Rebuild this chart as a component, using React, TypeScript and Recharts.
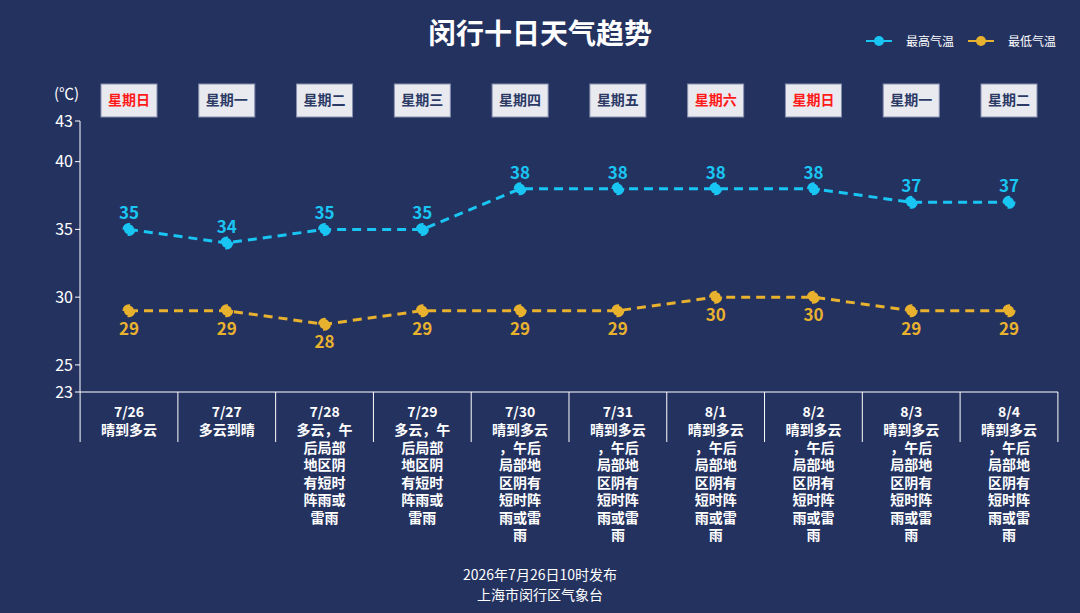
import React from 'react';
import { LineChart, Line, XAxis, YAxis, LabelList } from 'recharts';

const dates = ['7/26', '7/27', '7/28', '7/29', '7/30', '7/31', '8/1', '8/2', '8/3', '8/4'];
const weekdays = ['星期日', '星期一', '星期二', '星期三', '星期四', '星期五', '星期六', '星期日', '星期一', '星期二'];
const weekendFlags = [true, false, false, false, false, false, true, true, false, false];
const weathers = [
  '晴到多云', '多云到晴',
  '多云，午|后局部|地区阴|有短时|阵雨或|雷雨',
  '多云，午|后局部|地区阴|有短时|阵雨或|雷雨',
  '晴到多云|，午后|局部地|区阴有|短时阵|雨或雷|雨',
  '晴到多云|，午后|局部地|区阴有|短时阵|雨或雷|雨',
  '晴到多云|，午后|局部地|区阴有|短时阵|雨或雷|雨',
  '晴到多云|，午后|局部地|区阴有|短时阵|雨或雷|雨',
  '晴到多云|，午后|局部地|区阴有|短时阵|雨或雷|雨',
  '晴到多云|，午后|局部地|区阴有|短时阵|雨或雷|雨',
];
const highs = [35, 34, 35, 35, 38, 38, 38, 38, 37, 37];
const lows = [29, 29, 28, 29, 29, 29, 30, 30, 29, 29];
const yTicks = [23, 25, 30, 35, 40, 43];

const data = dates.map((d, i) => ({ idx: i, date: d, wk: weekdays[i], high: highs[i], low: lows[i] }));
const BG = '#243260';
const HI = '#19c5f2';
const LO = '#e8b12e';
const FONT = '"Noto Sans CJK SC", "Noto Sans", sans-serif';
const BAND = 97.8;

const BottomTick = (props: any) => {
  const { x, y, payload } = props;
  const i = payload.index;
  const lines = weathers[i].split('|');
  return (
    <g>
      <line x1={x - BAND / 2} y1={y - 8} x2={x - BAND / 2} y2={y + 42} stroke="#fff" />
      {i === dates.length - 1 && <line x1={x + BAND / 2} y1={y - 8} x2={x + BAND / 2} y2={y + 42} stroke="#fff" />}
      <text x={x} y={y + 17} textAnchor="middle" fill="#fff" fontSize={14} fontWeight="bold">{dates[i]}</text>
      {lines.map((l, k) => (
        <text key={k} x={x} y={y + 35 + k * 17.5} textAnchor="middle" fill="#fff" fontSize={14} fontWeight="bold">{l}</text>
      ))}
    </g>
  );
};

const TopTick = (props: any) => {
  const { x, payload } = props;
  const i = payload.index;
  return (
    <g>
      <rect x={x - 28} y={84} width={56} height={33} fill="#e9eaf0" stroke="#8890b0" />
      <text x={x} y={105} textAnchor="middle" fontSize={14} fontWeight="bold" fill={weekendFlags[i] ? '#ff1a1a' : '#2c3a66'}>{weekdays[i]}</text>
    </g>
  );
};

export default function App() {
  return (
    <div style={{ position: 'absolute', left: 0, top: 0, width: 1080, height: 613, background: BG, fontFamily: FONT }}>
      <div style={{ position: 'absolute', left: 0, width: 1080, top: 12, textAlign: 'center', color: '#fff', fontSize: 28, fontWeight: 'bold' }}>闵行十日天气趋势</div>
      <div style={{ position: 'absolute', left: 866, top: 32, display: 'flex', alignItems: 'center', color: '#fff', fontSize: 12 }}>
        <svg width={26} height={12}><line x1={0} y1={6} x2={26} y2={6} stroke={HI} strokeWidth={2} /><circle cx={13} cy={6} r={5} fill={HI} /></svg>
        <span style={{ marginLeft: 14, marginRight: 14 }}>最高气温</span>
        <svg width={26} height={12}><line x1={0} y1={6} x2={26} y2={6} stroke={LO} strokeWidth={2} /><circle cx={13} cy={6} r={5} fill={LO} /></svg>
        <span style={{ marginLeft: 14 }}>最低气温</span>
      </div>
      <div style={{ position: 'absolute', left: 54, top: 82, color: '#fff', fontSize: 15 }}>(℃)</div>
      <div style={{ position: 'absolute', left: 0, width: 1080, top: 564, textAlign: 'center', color: '#fff', fontSize: 14, lineHeight: '20px' }}>
        2026年7月26日10时发布<br />上海市闵行区气象台
      </div>
      <div style={{ position: 'absolute', left: 0, top: 0 }}>
        <LineChart width={1080} height={613} data={data} margin={{ top: 81, right: 22, left: 40, bottom: 51 }}>
          <XAxis xAxisId="top" dataKey="idx" orientation="top" height={40} axisLine={false} tickLine={false} tick={<TopTick />} interval={0} padding={{ left: 49, right: 49 }} />
          <XAxis dataKey="idx" height={170} stroke="#fff" tickLine={false} tick={<BottomTick />} interval={0} padding={{ left: 49, right: 49 }} />
          <YAxis domain={[23, 43]} ticks={yTicks} width={40} stroke="#fff" tickSize={5} tick={{ fill: '#fff', fontSize: 16 }} />
          <Line xAxisId={0} dataKey="high" stroke={HI} strokeWidth={3} strokeDasharray="9 6" dot={{ r: 5, fill: HI, stroke: HI }} isAnimationActive={false}>
            <LabelList dataKey="high" position="top" offset={10} fill={HI} fontSize={17} fontWeight="bold" />
          </Line>
          <Line xAxisId={0} dataKey="low" stroke={LO} strokeWidth={3} strokeDasharray="9 6" dot={{ r: 5, fill: LO, stroke: LO }} isAnimationActive={false}>
            <LabelList dataKey="low" position="bottom" offset={12} fill={LO} fontSize={17} fontWeight="bold" />
          </Line>
        </LineChart>
      </div>
    </div>
  );
}
